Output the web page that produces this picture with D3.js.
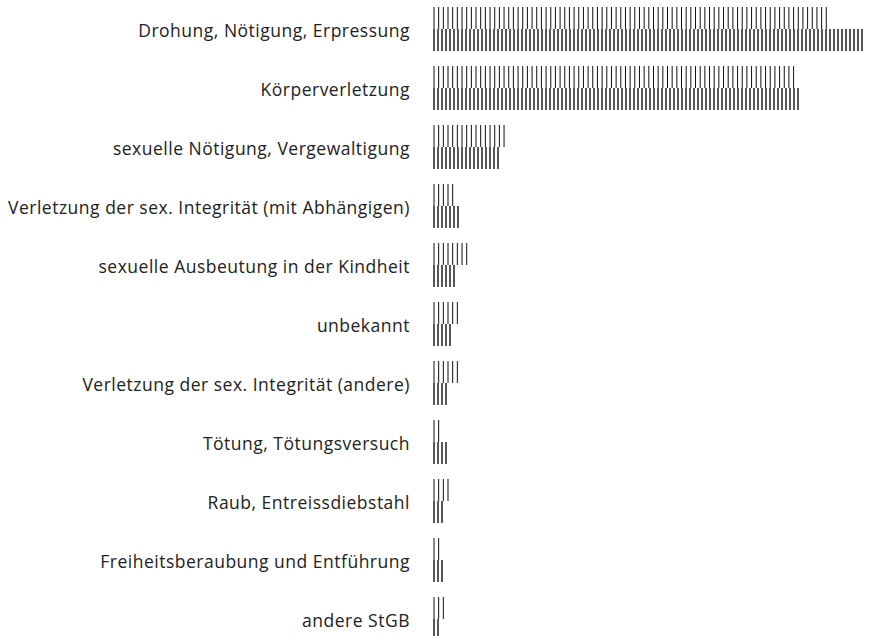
<!DOCTYPE html>
<html>
<head>
<meta charset="utf-8">
<script src="https://cdn.jsdelivr.net/npm/d3@7"></script>
<style>
  body { margin: 0; background: #fff; }
  text { font-family: "Open Sans", Roboto, sans-serif; }
</style>
</head>
<body>
<script>
const categories = [
    "Drohung, Nötigung, Erpressung",
    "Körperverletzung",
    "sexuelle Nötigung, Vergewaltigung",
    "Verletzung der sex. Integrität (mit Abhängigen)",
    "sexuelle Ausbeutung in der Kindheit",
    "unbekannt",
    "Verletzung der sex. Integrität (andere)",
    "Tötung, Tötungsversuch",
    "Raub, Entreissdiebstahl",
    "Freiheitsberaubung und Entführung",
    "andere StGB"
];

// upper row of each category
const seriesTop = [7920, 7240, 1420, 400, 680, 500, 500, 120, 300, 120, 220];
// lower row of each category
const seriesBottom = [8600, 7320, 1320, 500, 420, 360, 280, 280, 180, 180, 100];

const width = 873, height = 636;
const margin = {top: 7, left: 434};

const svg = d3.select('body').append('svg')
    .attr('width', width)
    .attr('height', height);

const scaleX = d3.scaleLinear()
    .domain([0, d3.max(seriesBottom.concat(seriesTop))])
    .range([margin.left, margin.left + 429]);

const scaleY = d3.scaleBand()
    .domain(categories)
    .range([margin.top, margin.top + 634])
    .paddingInner(0.254)
    .paddingOuter(0);

const rows = d3.scaleBand()
    .domain(['top', 'bottom'])
    .range([0, scaleY.bandwidth()]);

const rowStyle = {
    top: {step: 4.67, stroke: 1.0, values: seriesTop},
    bottom: {step: 4.0, stroke: 1.4, values: seriesBottom}
};

// labels
svg.append('g')
    .selectAll('text')
    .data(categories)
    .enter()
    .append('text')
    .attr('x', 410)
    .attr('y', d => scaleY(d) + scaleY.bandwidth() / 2 + 3)
    .attr('text-anchor', 'end')
    .attr('dominant-baseline', 'middle')
    .attr('font-size', 17.5)
    .attr('letter-spacing', 0.5)
    .attr('fill', '#222')
    .text(d => d);

// each bar is drawn as a run of thin vertical strokes
['top', 'bottom'].forEach(key => {
    const st = rowStyle[key];
    const g = svg.append('g').attr('class', 'row-' + key);
    categories.forEach((cat, i) => {
        const x0 = scaleX(0);
        const len = scaleX(st.values[i]) - x0;
        const xs = d3.range(0, len + 0.01, st.step).map(d => x0 + d);
        const y0 = scaleY(cat) + rows(key);
        g.selectAll(null)
            .data(xs)
            .enter()
            .append('line')
            .attr('x1', d => d)
            .attr('x2', d => d)
            .attr('y1', y0)
            .attr('y2', y0 + rows.bandwidth())
            .attr('stroke', '#111')
            .attr('stroke-width', st.stroke);
    });
});
</script>
</body>
</html>
